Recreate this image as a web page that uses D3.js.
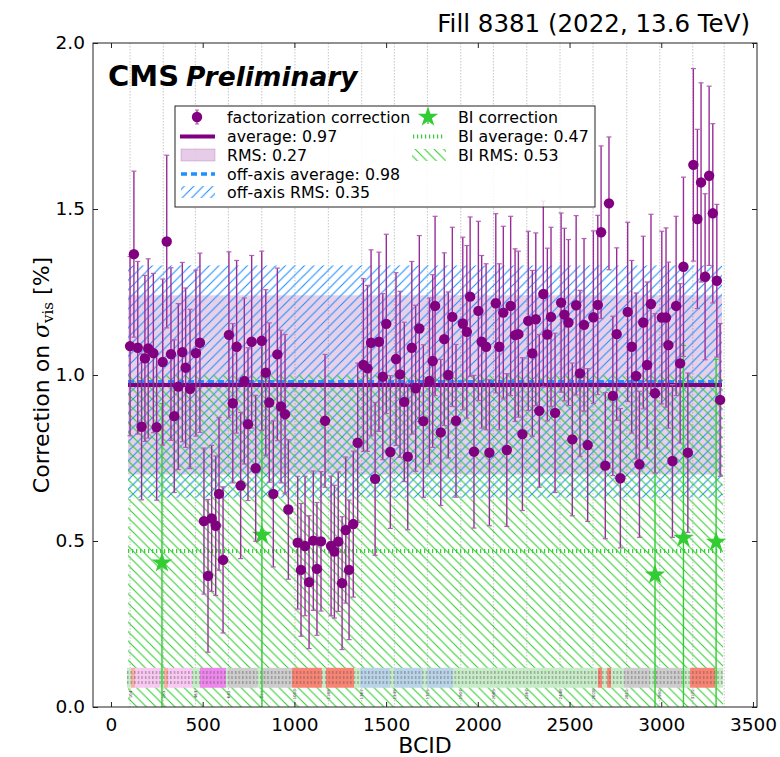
<!DOCTYPE html>
<html lang="en">
<head>
<meta charset="utf-8">
<title>Factorization correction per BCID</title>
<script src="https://d3js.org/d3.v7.min.js"></script>
<style>
  body { margin: 0; background: #fff; }
  text { font-family: "DejaVu Sans", sans-serif; fill: #000; }
</style>
</head>
<body>
<script>

// factorization correction per bunch (BCID, value in %, error)
var bcid = [104,125,146,167,185,203,231,249,282,304,
            327,345,367,389,407,431,463,485,507,529,
            549,571,589,611,643,664,685,707,727,747,
            767,789,822,844,863,885,907,927,949,967,
            1018,1036,1058,1080,1103,1123,1145,1167,1200,1218,
            1239,1260,1280,1298,1321,1345,1376,1398,1418,1440,
            1461,1482,1501,1523,1554,1576,1599,1618,1640,1661,
            1681,1703,1736,1754,1767,1798,1817,1839,1861,1881,
            1918,1940,1958,1979,2003,2021,2045,2063,2098,2117,
            2139,2158,2179,2203,2221,2243,2275,2297,2316,2335,
            2357,2379,2399,2421,2454,2472,2494,2515,2536,2557,
            2579,2599,2630,2654,2672,2695,2715,2736,2757,2777,
            2817,2839,2863,2881,2902,2923,2944,2966,3003,3026,
            3039,3061,3081,3103,3121,3145,3175,3197,3217,3239,
            3261,3281,3303,3321];
var corr = [1.087,1.364,1.082,0.844,1.05,1.08,1.066,0.843,1.039,1.402,
            1.063,0.876,0.965,1.069,1.022,0.958,1.066,1.097,0.56,0.395,
            0.568,0.546,0.642,0.443,1.121,0.915,1.085,0.667,0.982,0.852,
            1.10,0.719,1.103,1.007,0.917,0.642,1.062,0.905,0.882,0.595,
            0.495,0.413,0.485,0.376,0.501,0.416,0.499,0.862,0.485,0.468,
            0.498,0.373,0.533,0.413,0.551,0.796,1.03,1.02,1.097,0.687,
            1.10,0.995,1.154,0.768,1.048,1.002,0.919,0.754,1.082,0.96,
            1.14,0.861,0.982,1.042,1.208,0.827,1.108,1.0,1.175,0.862,
            1.155,1.13,1.236,0.769,1.193,1.10,1.085,0.766,1.216,1.085,
            1.188,0.774,1.208,1.12,1.123,0.822,1.163,1.065,1.168,0.892,
            1.244,1.122,1.175,0.886,1.218,1.182,1.158,0.806,1.21,1.005,
            1.151,0.789,1.174,1.211,1.43,0.727,1.517,0.937,1.123,0.689,
            1.19,1.085,0.997,0.731,1.158,1.03,1.214,0.945,1.173,1.173,
            1.09,0.741,1.208,1.035,1.326,0.766,1.633,1.47,1.58,1.296,
            1.60,1.487,1.284,0.925];
var corrErr = [0.27,0.25,0.26,0.22,0.25,0.27,0.24,0.22,0.25,0.26,
               0.26,0.23,0.25,0.27,0.24,0.24,0.25,0.27,0.22,0.23,
               0.22,0.21,0.23,0.22,0.25,0.24,0.26,0.22,0.25,0.23,
               0.26,0.22,0.27,0.25,0.24,0.22,0.26,0.23,0.24,0.21,
               0.20,0.20,0.21,0.20,0.21,0.20,0.21,0.20,0.21,0.20,
               0.21,0.20,0.22,0.21,0.22,0.24,0.26,0.25,0.28,0.23,
               0.27,0.25,0.27,0.23,0.26,0.25,0.24,0.22,0.26,0.25,
               0.28,0.23,0.25,0.26,0.27,0.22,0.26,0.25,0.27,0.23,
               0.26,0.26,0.24,0.23,0.27,0.26,0.25,0.22,0.27,0.25,
               0.26,0.23,0.27,0.26,0.25,0.23,0.27,0.25,0.26,0.23,
               0.28,0.26,0.27,0.24,0.27,0.26,0.25,0.23,0.27,0.25,
               0.26,0.23,0.26,0.27,0.26,0.22,0.20,0.24,0.26,0.21,
               0.27,0.26,0.25,0.22,0.26,0.25,0.27,0.24,0.26,0.27,
               0.25,0.23,0.27,0.24,0.27,0.24,0.29,0.27,0.30,0.25,
               0.27,0.27,0.23,0.23];

// beam-instrumentation correction
var biBcid = [278, 823, 2966, 3121, 3299];
var biCorr = [0.434, 0.518, 0.398, 0.509, 0.497];
var biErr  = [0.48, 0.58, 0.44, 0.58, 0.55];

var avg = 0.97, rms = 0.27;
var offAvg = 0.98, offRms = 0.35;
var biAvg = 0.47, biRms = 0.53;

// train starts (grid lines) and their labels
var trainGrid = [104,285,460,640,822,1003,1185,1367,1545,1725,1907,2085,2267,2448,2628,2812,2992,3172,3343];
var trainLabels = ["104","285","463","642","821","1003","1185","1367","1545","1725","1907","2085","2267","2448","2628","2812","2992","3172"];

// filling-scheme strip: [first BCID, last BCID, kind]
var stripSegs = [[87,109,"g"],[109,131,"s"],[131,267,"p"],[267,289,"g"],[289,311,"s"],[311,442,"p"],
                 [442,485,"g"],[485,627,"m"],[627,640,"g"],[640,800,"k"],[800,822,"g"],[822,987,"k"],
                 [987,1150,"r"],[1150,1172,"g"],[1172,1325,"r"],[1325,1358,"g"],[1358,1521,"b"],
                 [1521,1543,"g"],[1543,1700,"b"],[1700,1722,"g"],[1722,1865,"b"],[1865,2655,"g"],
                 [2655,2677,"r"],[2677,2705,"g"],[2705,2726,"r"],[2726,2797,"g"],[2797,2940,"k"],
                 [2940,2962,"g"],[2962,3113,"k"],[3113,3157,"g"],[3157,3293,"r"],[3293,3337,"g"]];

var xTicks = [0,500,1000,1500,2000,2500,3000,3500];
var yTicks = [0,0.5,1.0,1.5,2.0];

var stripColor = {g:"#c8ebc8", s:"#f8b0a4", p:"#f9c8f3", m:"#ee86ee", k:"#cdcdcd", r:"#f98474", b:"#b9d3e8"};

var W = 780, H = 757;
var pL = 93, pT = 43, pR = 757, pB = 707;

var x = d3.scaleLinear().domain([-98, 3522]).range([pL, pR]);
var y = d3.scaleLinear().domain([0, 2]).range([pB, pT]);

var svg = d3.select("body").append("svg")
    .attr("width", W).attr("height", H);

var defs = svg.append("defs");
defs.append("clipPath").attr("id", "plotClip")
  .append("rect").attr("x", pL).attr("y", pT)
  .attr("width", pR - pL).attr("height", pB - pT);

var hs = 9.5;
defs.append("pattern").attr("id", "hatchBlue")
    .attr("patternUnits", "userSpaceOnUse").attr("width", hs).attr("height", hs)
  .append("path").attr("d", "M-2,2 L2,-2 M0," + hs + " L" + hs + ",0 M" + (hs - 2) + "," + (hs + 2) + " L" + (hs + 2) + "," + (hs - 2))
    .attr("stroke", "#1e90ff").attr("stroke-width", 1.1);
defs.append("pattern").attr("id", "hatchGreen")
    .attr("patternUnits", "userSpaceOnUse").attr("width", hs).attr("height", hs)
  .append("path").attr("d", "M-2," + (hs - 2) + " L2," + (hs + 2) + " M0,0 L" + hs + "," + hs + " M" + (hs - 2) + ",-2 L" + (hs + 2) + ",2")
    .attr("stroke", "#32cd32").attr("stroke-width", 1.1);
var tp = defs.append("pattern").attr("id", "tinyText")
    .attr("patternUnits", "userSpaceOnUse").attr("width", 3.6).attr("height", 5);
tp.append("rect").attr("x", 1).attr("y", 1).attr("width", 1.3).attr("height", 3)
    .attr("fill", "#555").attr("opacity", 0.5);

var plot = svg.append("g").attr("clip-path", "url(#plotClip)");

// grid lines at train starts
plot.selectAll(".grid").data(trainGrid).enter().append("line")
    .attr("x1", d => x(d)).attr("x2", d => x(d))
    .attr("y1", pT).attr("y2", pB)
    .attr("stroke", "#b8b8b8").attr("stroke-width", 0.8)
    .attr("stroke-dasharray", "1.5,1.5");

var span = d3.extent(bcid);
var x0 = x(span[0] - 11), x1 = x(span[1] + 10);

// RMS bands
plot.append("rect").attr("x", x0).attr("width", x1 - x0)
    .attr("y", y(avg + rms)).attr("height", y(avg - rms) - y(avg + rms))
    .attr("fill", "#800080").attr("fill-opacity", 0.18);
plot.append("rect").attr("x", x0).attr("width", x1 - x0)
    .attr("y", y(offAvg + offRms)).attr("height", y(offAvg - offRms) - y(offAvg + offRms))
    .attr("fill", "url(#hatchBlue)");
plot.append("rect").attr("x", x0).attr("width", x1 - x0 + 1)
    .attr("y", y(biAvg + biRms)).attr("height", y(biAvg - biRms) - y(biAvg + biRms))
    .attr("fill", "url(#hatchGreen)");

// filling scheme strip
var strip = plot.append("g");
strip.selectAll("rect.seg").data(stripSegs).enter().append("rect")
    .attr("x", d => x(d[0])).attr("width", d => x(d[1]) - x(d[0]))
    .attr("y", y(0.118)).attr("height", y(0.058) - y(0.118))
    .attr("fill", d => stripColor[d[2]]);
strip.selectAll("rect.tx").data(stripSegs).enter().append("rect")
    .attr("x", d => x(d[0])).attr("width", d => x(d[1]) - x(d[0]))
    .attr("y", y(0.112)).attr("height", y(0.064) - y(0.112))
    .attr("fill", "url(#tinyText)");
strip.selectAll("text").data(trainLabels).enter().append("text")
    .attr("transform", (d, i) => "translate(" + (x(trainGrid[i]) + 1.5) + "," + y(0.038) + ") rotate(-90)")
    .attr("text-anchor", "middle")
    .style("font-size", "4px").style("fill", "#444")
    .text(d => d);

// average lines
plot.append("line").attr("x1", x0).attr("x2", x1)
    .attr("y1", y(offAvg)).attr("y2", y(offAvg))
    .attr("stroke", "#1e90ff").attr("stroke-width", 3.5).attr("stroke-dasharray", "6,4");
plot.append("line").attr("x1", x0).attr("x2", x1)
    .attr("y1", y(avg)).attr("y2", y(avg))
    .attr("stroke", "#800080").attr("stroke-width", 4);
plot.append("line").attr("x1", x0).attr("x2", x1)
    .attr("y1", y(biAvg)).attr("y2", y(biAvg))
    .attr("stroke", "#32cd32").attr("stroke-width", 4).attr("stroke-dasharray", "1.2,2.8");

// BI points
var bi = biBcid.map((b, i) => ({x: b, v: biCorr[i], e: biErr[i]}));
var biG = plot.append("g");
biG.selectAll("line.bar").data(bi).enter().append("line")
    .attr("x1", d => x(d.x)).attr("x2", d => x(d.x))
    .attr("y1", d => y(d.v + d.e)).attr("y2", d => y(d.v - d.e))
    .attr("stroke", "#32cd32").attr("stroke-width", 1.4);
biG.selectAll("line.cap").data(bi).enter().append("line")
    .attr("x1", d => x(d.x) - 2.5).attr("x2", d => x(d.x) + 2.5)
    .attr("y1", d => y(d.v + d.e)).attr("y2", d => y(d.v + d.e))
    .attr("stroke", "#32cd32").attr("stroke-width", 1.2);

// factorization corrections with error bars
var pts = bcid.map((b, i) => ({x: b, v: corr[i], e: corrErr[i]}));
var eg = plot.append("g");
eg.selectAll("line.bar").data(pts).enter().append("line")
    .attr("x1", d => x(d.x)).attr("x2", d => x(d.x))
    .attr("y1", d => y(d.v + d.e)).attr("y2", d => y(d.v - d.e))
    .attr("stroke", "#9a2c9a").attr("stroke-width", 1.4);
eg.selectAll("line.capT").data(pts).enter().append("line")
    .attr("x1", d => x(d.x) - 2.5).attr("x2", d => x(d.x) + 2.5)
    .attr("y1", d => y(d.v + d.e)).attr("y2", d => y(d.v + d.e))
    .attr("stroke", "#b060b0").attr("stroke-width", 1.2);
eg.selectAll("line.capB").data(pts).enter().append("line")
    .attr("x1", d => x(d.x) - 2.5).attr("x2", d => x(d.x) + 2.5)
    .attr("y1", d => y(d.v - d.e)).attr("y2", d => y(d.v - d.e))
    .attr("stroke", "#b060b0").attr("stroke-width", 1.2);
eg.selectAll("circle").data(pts).enter().append("circle")
    .attr("cx", d => x(d.x)).attr("cy", d => y(d.v)).attr("r", 5.2)
    .attr("fill", "#800080");

var star = d3.symbol(d3.symbolStar, 130);
biG.selectAll("path.star").data(bi).enter().append("path")
    .attr("d", star)
    .attr("transform", d => "translate(" + x(d.x) + "," + y(d.v) + ")")
    .attr("fill", "#32cd32");

// axes: inward ticks on all four sides
function styleAxis(g) {
  g.select(".domain").remove();
  g.selectAll(".tick line").attr("stroke", "#222");
  g.selectAll("text").style("font-size", "18.5px").attr("font-family", "DejaVu Sans");
}
svg.append("g").attr("transform", "translate(0," + pB + ")")
  .call(d3.axisBottom(x).tickValues(xTicks).tickFormat(d3.format("d")).tickSizeInner(-5).tickSizeOuter(0).tickPadding(11))
  .call(styleAxis);
svg.append("g").attr("transform", "translate(0," + pT + ")")
  .call(d3.axisTop(x).tickValues(xTicks).tickFormat("").tickSizeInner(-5).tickSizeOuter(0))
  .call(styleAxis);
svg.append("g").attr("transform", "translate(" + pL + ",0)")
  .call(d3.axisLeft(y).tickValues(yTicks).tickFormat(d3.format(".1f")).tickSizeInner(-5).tickSizeOuter(0).tickPadding(8))
  .call(styleAxis);
svg.append("g").attr("transform", "translate(" + pR + ",0)")
  .call(d3.axisRight(y).tickValues(yTicks).tickFormat("").tickSizeInner(-5).tickSizeOuter(0))
  .call(styleAxis);

svg.append("rect").attr("x", pL).attr("y", pT)
    .attr("width", pR - pL).attr("height", pB - pT)
    .attr("fill", "none").attr("stroke", "#222").attr("stroke-width", 1);

// titles
svg.append("text").attr("x", 750).attr("y", 32).attr("text-anchor", "end")
    .style("font-size", "24.5px").text("Fill 8381 (2022, 13.6 TeV)");
svg.append("text").attr("x", 108).attr("y", 86)
    .style("font-size", "29px").style("font-weight", "bold").text("CMS");
svg.append("text").attr("x", 186).attr("y", 86)
    .style("font-size", "26.5px").style("font-weight", "bold").style("font-style", "italic")
    .text("Preliminary");

svg.append("text").attr("x", (pL + pR) / 2).attr("y", 753).attr("text-anchor", "middle")
    .style("font-size", "22px").text("BCID");

var yl = svg.append("text")
    .attr("transform", "translate(49," + ((pT + pB) / 2) + ") rotate(-90)")
    .attr("text-anchor", "middle").style("font-size", "22px");
yl.append("tspan").text("Correction on ");
yl.append("tspan").style("font-family", "DejaVu Serif").style("font-style", "italic").text("σ");
yl.append("tspan").style("font-family", "DejaVu Serif").style("font-size", "15px")
    .attr("dy", 4).text("vis");
yl.append("tspan").attr("dy", -4).text(" [%]");

// legend
var lg = svg.append("g");
lg.append("rect").attr("x", 175).attr("y", 106).attr("width", 420).attr("height", 101)
    .attr("fill", "#fff").attr("fill-opacity", 0.85).attr("stroke", "#222").attr("stroke-width", 1);
var rows = [117, 136.5, 155, 174, 192];
var fs = "15.8px";
function lgText(tx, ty, s) {
  lg.append("text").attr("x", tx).attr("y", ty + 5.5).style("font-size", fs).text(s);
}
// col 1
lg.append("line").attr("x1", 197).attr("x2", 197).attr("y1", rows[0] - 7).attr("y2", rows[0] + 7)
    .attr("stroke", "#a040a0").attr("stroke-width", 1.4);
lg.append("line").attr("x1", 195).attr("x2", 199).attr("y1", rows[0] - 7).attr("y2", rows[0] - 7)
    .attr("stroke", "#b060b0");
lg.append("line").attr("x1", 195).attr("x2", 199).attr("y1", rows[0] + 7).attr("y2", rows[0] + 7)
    .attr("stroke", "#b060b0");
lg.append("circle").attr("cx", 197).attr("cy", rows[0]).attr("r", 5.2).attr("fill", "#800080");
lgText(227, rows[0], "factorization correction");
lg.append("line").attr("x1", 180).attr("x2", 215).attr("y1", rows[1]).attr("y2", rows[1])
    .attr("stroke", "#800080").attr("stroke-width", 4);
lgText(227, rows[1], "average: 0.97");
lg.append("rect").attr("x", 181).attr("y", rows[2] - 6).attr("width", 34).attr("height", 12)
    .attr("fill", "#800080").attr("fill-opacity", 0.2).attr("stroke", "#800080").attr("stroke-opacity", 0.2);
lgText(227, rows[2], "RMS: 0.27");
lg.append("line").attr("x1", 181).attr("x2", 215).attr("y1", rows[3]).attr("y2", rows[3])
    .attr("stroke", "#1e90ff").attr("stroke-width", 3.5).attr("stroke-dasharray", "6,4");
lgText(227, rows[3], "off-axis average: 0.98");
lg.append("rect").attr("x", 181).attr("y", rows[4] - 6).attr("width", 34).attr("height", 12)
    .attr("fill", "url(#hatchBlue)");
lgText(227, rows[4], "off-axis RMS: 0.35");
// col 2
lg.append("line").attr("x1", 428).attr("x2", 428).attr("y1", rows[0] - 7).attr("y2", rows[0] + 7)
    .attr("stroke", "#32cd32").attr("stroke-width", 1.4);
lg.append("path").attr("d", star).attr("transform", "translate(428," + rows[0] + ")").attr("fill", "#32cd32");
lgText(458, rows[0], "BI correction");
lg.append("line").attr("x1", 413).attr("x2", 444).attr("y1", rows[1]).attr("y2", rows[1])
    .attr("stroke", "#32cd32").attr("stroke-width", 4).attr("stroke-dasharray", "1.2,2.8");
lgText(458, rows[1], "BI average: 0.47");
lg.append("rect").attr("x", 412).attr("y", rows[2] - 6).attr("width", 34).attr("height", 12)
    .attr("fill", "url(#hatchGreen)");
lgText(458, rows[2], "BI RMS: 0.53");

</script>
</body>
</html>
